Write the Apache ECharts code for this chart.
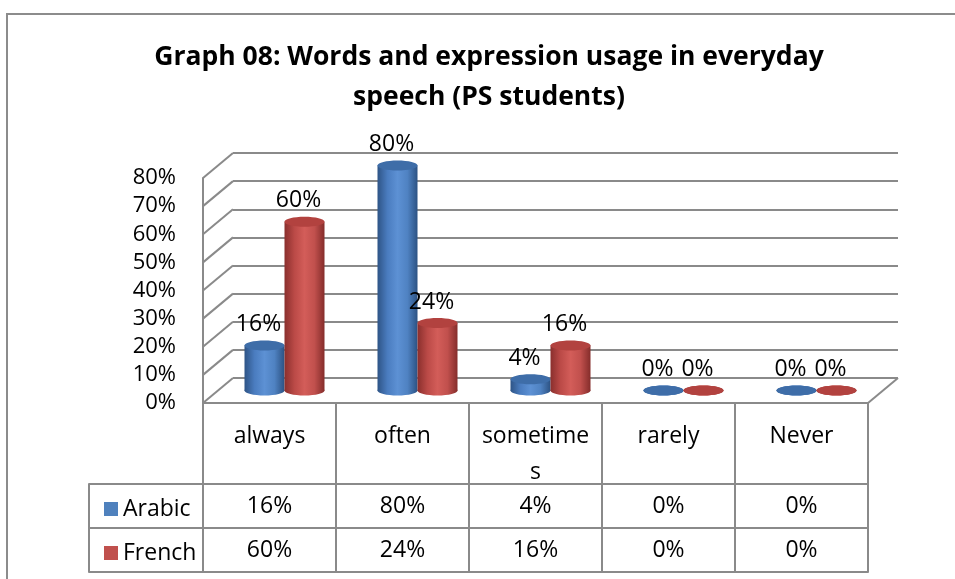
<!DOCTYPE html>
<html>
<head>
<meta charset="utf-8">
<script src="https://cdn.jsdelivr.net/npm/echarts@6/dist/echarts.min.js"></script>
<style>
html, body { margin: 0; padding: 0; background: #fff; }
#chart { width: 955px; height: 579px; }
</style>
</head>
<body>
<div id="chart"></div>
<script>
// data
const categories = ["always", "often", "sometimes", "rarely", "Never"];
const arabic = [16, 80, 4, 0, 0];
const french = [60, 24, 16, 0, 0];
const yTicks = [0, 10, 20, 30, 40, 50, 60, 70, 80];

const FONT = "'Open Sans', sans-serif";
const LINE = "#8a8a8a";
const DX = 30, DY = -25; // depth of the 3d box

const chart = echarts.init(document.getElementById("chart"));

function grad(stops) {
    return new echarts.graphic.LinearGradient(0, 0, 1, 0, stops.map((c, i) => ({ offset: i / (stops.length - 1), color: c })));
}

// cylinder bar drawn on the mid-depth grid
function cylinder(shift, body, top) {
    return function (params, api) {
        const i = api.value(0), v = api.value(1);
        const base = api.coord([i, 0]);
        const head = api.coord([i, v]);
        const cx = base[0] + shift;
        const rx = 20, ry = 5;
        return {
            type: "group",
            children: [
                { type: "ellipse", shape: { cx: cx, cy: base[1], rx: rx, ry: ry }, style: { fill: body } },
                { type: "rect", shape: { x: cx - rx, y: head[1], width: rx * 2, height: base[1] - head[1] }, style: { fill: body } },
                { type: "ellipse", shape: { cx: cx, cy: head[1], rx: rx, ry: ry }, style: { fill: top } },
                {
                    type: "text", x: cx - 6, y: head[1] - 21,
                    style: { text: v + "%", fontFamily: FONT, fontSize: 23, fill: "#000", align: "center", verticalAlign: "middle" }
                }
            ]
        };
    };
}

// diagonal lines of the side wall and floor edge
function sideWall(params, api) {
    const v = api.value(1);
    const p = api.coord([0, v]);
    const x0 = params.coordSys.x;
    const kids = [{
        type: "line", shape: { x1: x0, y1: p[1], x2: x0 + DX, y2: p[1] + DY },
        style: { stroke: LINE, lineWidth: 2 }
    }];
    if (v === 0) {
        const x1 = x0 + params.coordSys.width;
        kids.push({
            type: "line", shape: { x1: x1, y1: p[1], x2: x1 + DX, y2: p[1] + DY },
            style: { stroke: LINE, lineWidth: 2 }
        });
    }
    return { type: "group", children: kids };
}

const hidden = { show: false };
const cellText = { interval: 0, fontFamily: FONT, fontSize: 23, margin: 22, verticalAlign: "middle", color: "#000" };

chart.setOption({
    animation: false,
    title: {
        text: "Graph 08: Words and expression usage in everyday\nspeech (PS students)",
        left: 489,
        top: 37,
        padding: 0,
        textAlign: "center",
        textStyle: { fontFamily: FONT, fontSize: 26.5, fontWeight: "bold", lineHeight: 40, color: "#000" }
    },
    legend: {
        data: ["Arabic", "French"],
        orient: "vertical",
        left: 99,
        top: 492,
        icon: "rect",
        itemWidth: 14,
        itemHeight: 14,
        itemGap: 20,
        selectedMode: false,
        textStyle: { fontFamily: FONT, fontSize: 23, lineHeight: 24, color: "#000" }
    },
    graphic: [{
        type: "polyline",
        shape: { points: [[7, 579], [7, 14], [955, 14]] },
        style: { stroke: "#8c8c8c", lineWidth: 2, fill: null }
    }],
    grid: [
        { left: 203, top: 178, width: 665, height: 225 },   // front
        { left: 233, top: 153, width: 665, height: 225 },   // back wall
        { left: 218, top: 165.5, width: 665, height: 225 }, // bars, mid depth
        { left: 89, top: 484, width: 114, height: 88 }      // legend cells
    ],
    xAxis: [
        {
            gridIndex: 0, type: "category", data: categories, position: "bottom",
            axisLine: { lineStyle: { color: LINE, width: 2 } },
            axisTick: { show: true, length: 169, interval: 0, lineStyle: { color: LINE, width: 2 } },
            axisLabel: {
                interval: 0, width: 112, overflow: "break", fontFamily: FONT, fontSize: 23,
                lineHeight: 36, margin: 15, verticalAlign: "top", color: "#000"
            }
        },
        {
            gridIndex: 0, type: "category", position: "bottom", offset: 81,
            data: arabic.map(v => v + "%"),
            axisLine: { lineStyle: { color: LINE, width: 2 } },
            axisTick: hidden, axisLabel: cellText
        },
        {
            gridIndex: 0, type: "category", position: "bottom", offset: 125,
            data: french.map(v => v + "%"),
            axisLine: { lineStyle: { color: LINE, width: 2 } },
            axisTick: hidden, axisLabel: cellText
        },
        {
            gridIndex: 0, type: "category", position: "bottom", offset: 169,
            data: categories,
            axisLine: { lineStyle: { color: LINE, width: 2 } },
            axisTick: hidden, axisLabel: hidden
        },
        { gridIndex: 1, type: "category", data: categories, show: false },
        { gridIndex: 2, type: "category", data: categories, show: false },
        { gridIndex: 3, type: "category", data: [""], show: false }
    ],
    yAxis: [
        {
            gridIndex: 0, type: "value", min: 0, max: 80, interval: 10,
            axisLine: { show: true, lineStyle: { color: LINE, width: 2 } },
            axisTick: hidden, splitLine: hidden,
            axisLabel: { formatter: "{value}%", fontFamily: FONT, fontSize: 22, margin: 27, color: "#000" }
        },
        {
            gridIndex: 1, type: "value", min: 0, max: 80, interval: 10,
            axisLine: hidden, axisTick: hidden, axisLabel: hidden,
            splitLine: { show: true, lineStyle: { color: LINE, width: 2 } }
        },
        { gridIndex: 2, type: "value", min: 0, max: 80, interval: 10, show: false, splitLine: hidden },
        {
            gridIndex: 3, type: "category", data: ["Arabic", "French"], inverse: true,
            axisLine: { show: true, lineStyle: { color: LINE, width: 2 } },
            axisTick: hidden, axisLabel: hidden,
            splitLine: { show: true, interval: 0, lineStyle: { color: LINE, width: 2 } }
        }
    ],
    series: [
        {
            type: "custom", name: "wall", xAxisIndex: 0, yAxisIndex: 0, silent: true, z: 1,
            data: yTicks.map(v => [0, v]),
            renderItem: sideWall
        },
        {
            type: "custom", name: "Arabic", xAxisIndex: 5, yAxisIndex: 2,
            itemStyle: { color: "#4f81bd" },
            data: arabic.map((v, i) => [i, v]),
            renderItem: cylinder(-20, grad(["#2e5486", "#4a7cbf", "#5d91d4", "#4f82c2", "#2c5283"]), "#3e6da8")
        },
        {
            type: "custom", name: "French", xAxisIndex: 5, yAxisIndex: 2,
            itemStyle: { color: "#c0504d" },
            data: french.map((v, i) => [i, v]),
            renderItem: cylinder(20, grad(["#8a2f2d", "#bb4a47", "#d35d59", "#c1504d", "#852d2b"]), "#b2423f")
        }
    ]
});
</script>
</body>
</html>
